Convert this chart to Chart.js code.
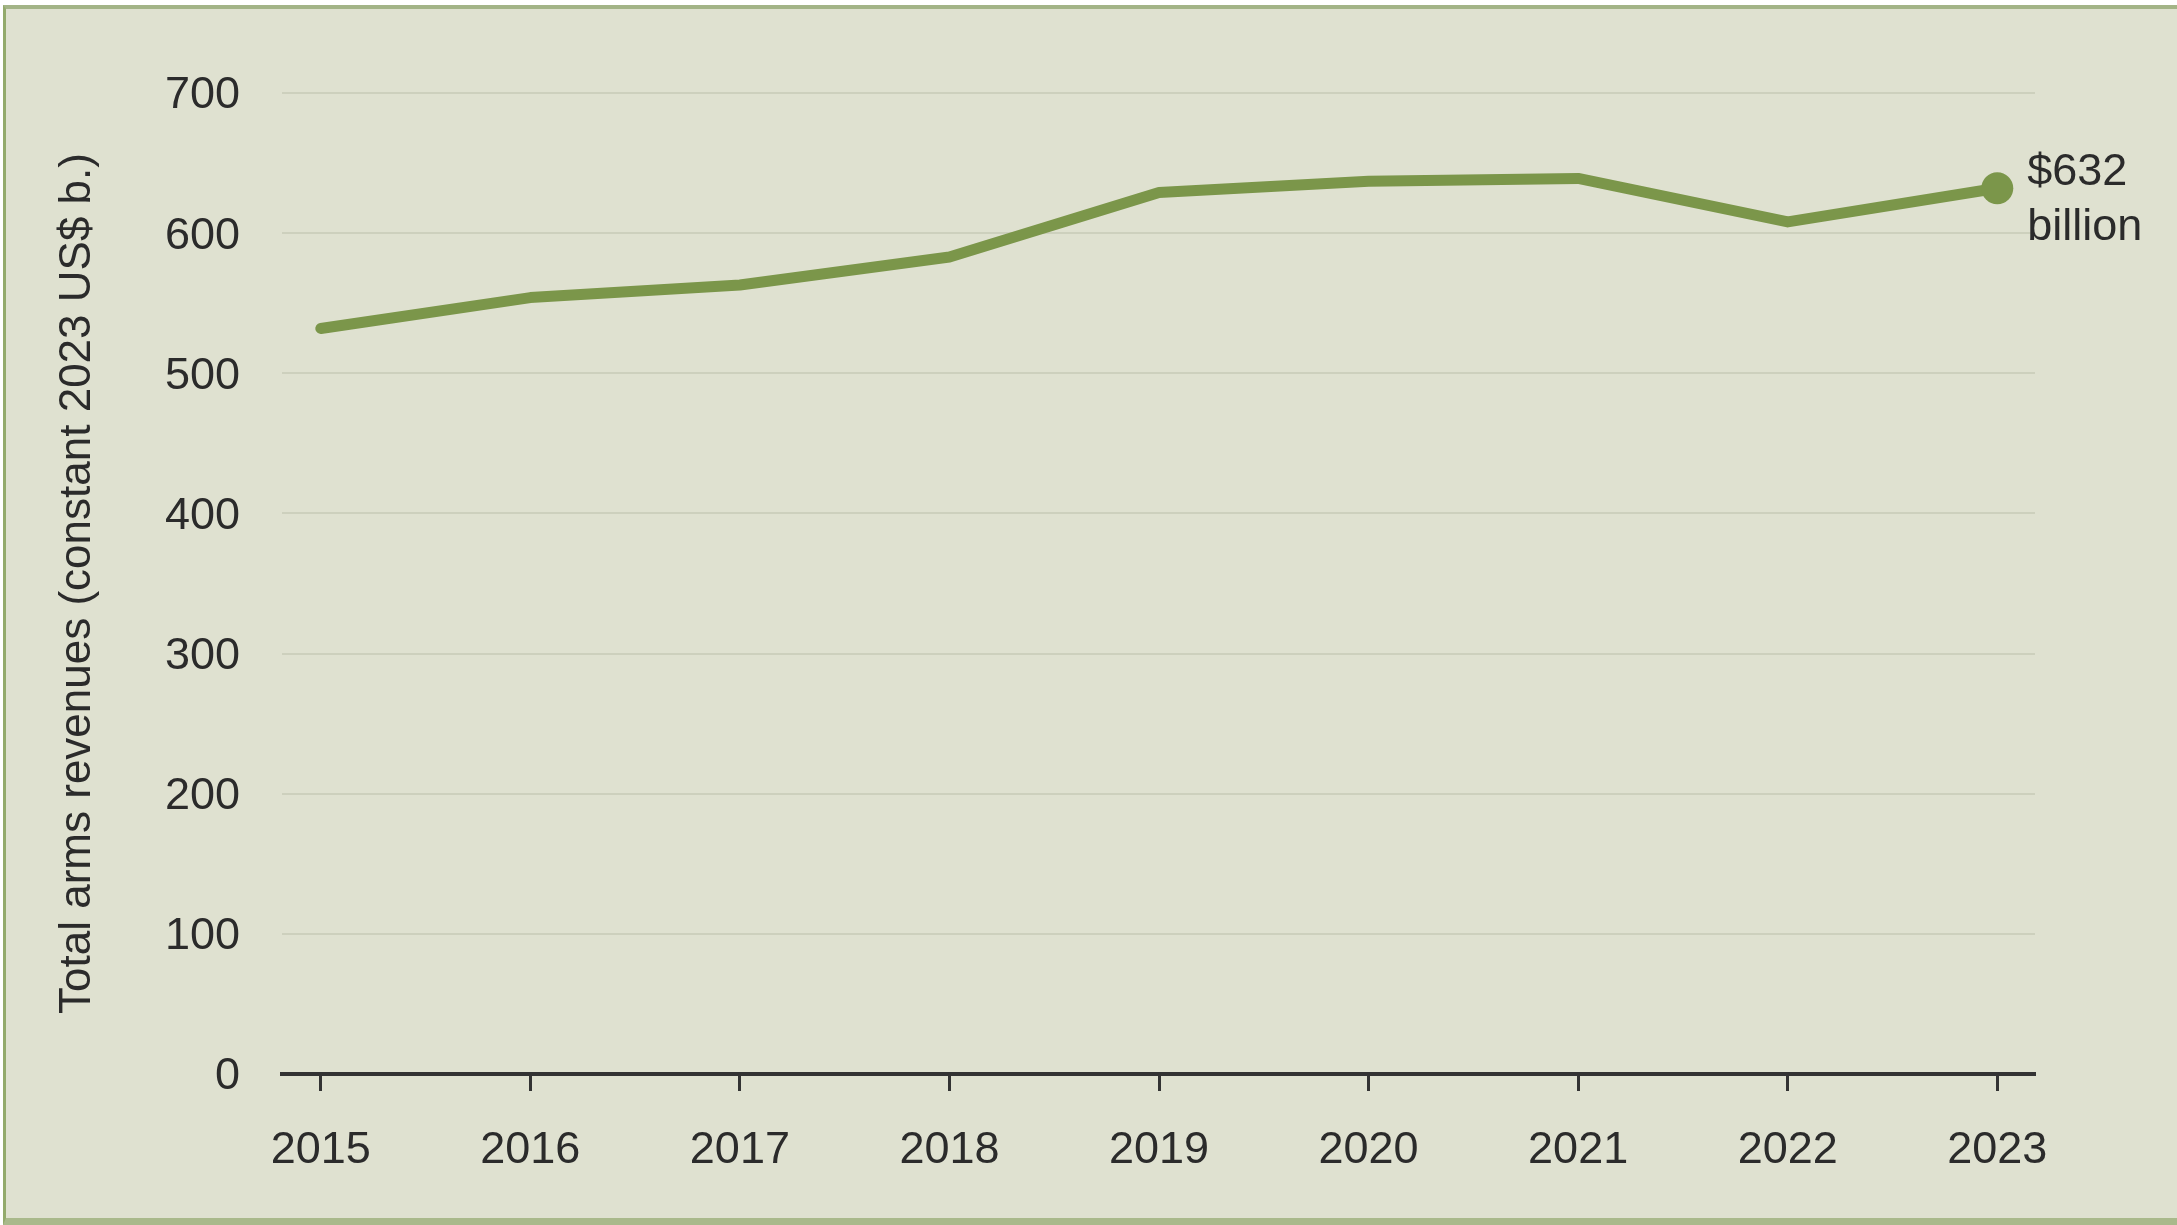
<!DOCTYPE html>
<html>
<head>
<meta charset="utf-8">
<title>Total arms revenues</title>
<script src="https://cdn.jsdelivr.net/npm/chart.js@4"></script>
<style>
  html, body { margin: 0; padding: 0; background: #ffffff; overflow: hidden; }
  #panel {
    position: absolute; left: 3px; top: 5px; right: -10px; bottom: 0;
    background: #dfe1d0;
    border-left: 3px solid #93aa6c;
    border-top: 4px solid #a3b487;
    border-bottom: 7px solid #a9b98b;
  }
  #chart { position: absolute; left: 0; top: 0; }
</style>
</head>
<body>
<div id="panel"></div>
<canvas id="chart" width="2177" height="1225"></canvas>
<script>
// Dados
const years = [2015, 2016, 2017, 2018, 2019, 2020, 2021, 2022, 2023];
const revenues = [532, 554, 563, 583, 629, 637, 639, 608, 632];
const yTicks = [0, 100, 200, 300, 400, 500, 600, 700];

const green = '#7b964a';
const ink = '#2b2b2b';
const fontFamily = '"Liberation Sans", Arial, sans-serif';

// Rótulo do último valor ao lado do ponto final
const endLabel = {
    id: 'endLabel',
    afterDatasetsDraw(chart) {
        const meta = chart.getDatasetMeta(0);
        const last = meta.data[meta.data.length - 1];
        const ctx = chart.ctx;
        ctx.save();
        ctx.font = '45px ' + fontFamily;
        ctx.fillStyle = ink;
        ctx.textAlign = 'left';
        ctx.textBaseline = 'alphabetic';
        ctx.fillText('$' + revenues[revenues.length - 1], last.x + 30, last.y - 3);
        ctx.fillText('billion', last.x + 30, last.y + 52);
        ctx.restore();
    }
};

const ctx = document.getElementById('chart').getContext('2d');
new Chart(ctx, {
    type: 'line',
    data: {
        datasets: [{
            label: 'Total arms revenues',
            data: years.map((y, i) => ({ x: y, y: revenues[i] })),
            borderColor: green,
            backgroundColor: green,
            borderWidth: 11,
            borderCapStyle: 'round',
            borderJoinStyle: 'round',
            tension: 0,
            pointRadius: c => c.dataIndex === revenues.length - 1 ? 16 : 0,
            pointHoverRadius: 0,
            pointBorderWidth: 0,
            clip: false
        }]
    },
    options: {
        responsive: false,
        animation: false,
        layout: { padding: { top: 93, right: 142, left: 0, bottom: 0 } },
        plugins: {
            legend: { display: false },
            tooltip: { enabled: false }
        },
        scales: {
            x: {
                type: 'linear',
                min: 2014.815,
                max: 2023.18,
                afterBuildTicks: axis => { axis.ticks = years.map(v => ({ value: v })); },
                afterFit: axis => { axis.height = 151; },
                grid: {
                    drawOnChartArea: false,
                    drawTicks: true,
                    tickLength: 17,
                    tickWidth: 3,
                    tickColor: '#333333'
                },
                border: { display: true, color: '#333333', width: 4 },
                ticks: {
                    color: ink,
                    padding: 33,
                    maxRotation: 0,
                    font: { size: 45, family: fontFamily },
                    callback: v => String(v)
                }
            },
            y: {
                min: 0,
                max: 700,
                afterBuildTicks: axis => { axis.ticks = yTicks.map(v => ({ value: v })); },
                afterFit: axis => { axis.width = 282; },
                grid: {
                    color: '#cdd0bd',
                    lineWidth: 2,
                    drawTicks: false
                },
                border: { display: false },
                ticks: {
                    color: ink,
                    padding: 42,
                    labelOffset: 3,
                    font: { size: 45, family: fontFamily }
                },
                title: {
                    display: true,
                    text: 'Total arms revenues (constant 2023 US$ b.)',
                    color: ink,
                    padding: { top: 51, bottom: 0 },
                    font: { size: 44, family: fontFamily }
                }
            }
        }
    },
    plugins: [endLabel]
});
</script>
</body>
</html>
